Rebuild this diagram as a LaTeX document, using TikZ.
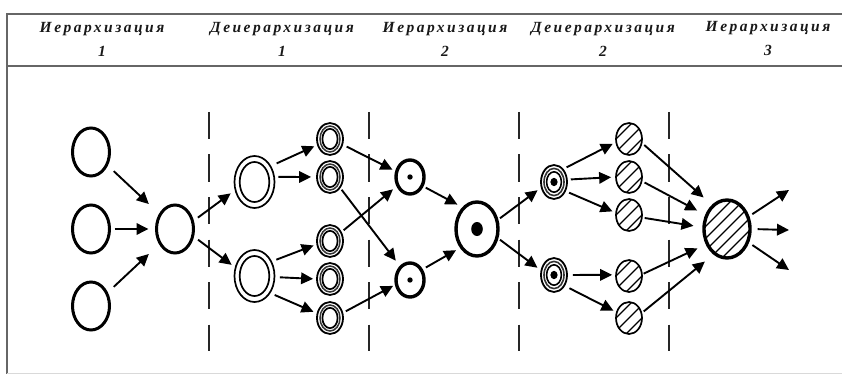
\documentclass[tikz,border=0pt]{standalone}
\usepackage{fontspec}
\setmainfont{Liberation Serif}
\usetikzlibrary{shapes.geometric,arrows.meta}
\tikzset{
  bub/.style n args={3}{ellipse,draw=black,inner sep=0pt,line width=#3,minimum width=#1pt,minimum height=#2pt},
  plainb/.style={bub={37}{48}{3pt}},
  ringb/.style={bub={40}{52}{1.7pt},path picture={\draw[line width=1.7pt] (path picture bounding box.center) ellipse (14.8pt and 20pt);}},
  rings/.style={bub={26}{32}{1.8pt},path picture={\draw[line width=1.5pt,black!80] (path picture bounding box.center) ellipse (10pt and 13pt);\draw[line width=1.7pt] (path picture bounding box.center) ellipse (7.6pt and 10.2pt);}},
  dots/.style={bub={28}{34}{3.4pt},path picture={\fill (path picture bounding box.center) circle (2.7pt);}},
  dotb/.style={bub={42}{54}{3.4pt},path picture={\fill (path picture bounding box.center) ellipse (5.8pt and 7pt);}},
  rdot/.style={bub={26}{34}{1.8pt},path picture={\draw[line width=1.6pt,black!80] (path picture bounding box.center) ellipse (10pt and 13.6pt);\draw[line width=1.6pt] (path picture bounding box.center) ellipse (7.4pt and 10.2pt);\fill (path picture bounding box.center) ellipse (3.6pt and 4.2pt);}},
  hats/.style={bub={26}{32}{1.7pt},path picture={\foreach \i in {-13,0,13}{\draw[line width=1.3pt] ([xshift=\i pt-30pt,yshift=-30pt]path picture bounding box.center) -- ++(60pt,60pt);}}},
  hatb/.style={bub={46}{58}{3.4pt},path picture={\foreach \i in {-48,-36,...,48}{\draw[line width=1.3pt] ([xshift=\i pt-40pt,yshift=-40pt]path picture bounding box.center) -- ++(80pt,80pt);}}},
  conn/.style 2 args={-{Triangle[length=12pt,width=11.5pt]},line width=1.9pt,shorten <=#1pt,shorten >=#2pt},
  rule/.style={draw=black!60,line width=1.5pt},
  divider/.style={black!85,line width=1.5pt,dash pattern=on 27pt off 15.5pt},
  head/.style={align=center,inner sep=0pt,black!90,font=\fontsize{15.5}{24}\selectfont\bfseries\itshape\addfontfeature{LetterSpace=16}}
}
\begin{document}
\begin{tikzpicture}[x=1pt,y=-1pt]
\useasboundingbox (0,0) rectangle (842,374);
% frame
\draw[rule] (842,14) -- (7,14) -- (7,374);
\draw[rule] (7,66) -- (842,66);
\draw[black!15,line width=1pt] (7,373.2) -- (842,373.2);
% headings
\node[head] (h1) at (102,39) {Иерархизация\\1};
\node[head] (h2) at (282,39) {Деиерархизация\\1};
\node[head] (h3) at (445,39) {Иерархизация\\2};
\node[head] (h4) at (603,39) {Деиерархизация\\2};
\node[head] (h5) at (768,39) {Иерархизация\\3};
% dividers
\foreach \x/\n in {209/a,369/b,519/c,669/d}{
  \coordinate (t\n) at (\x,112);
  \coordinate (u\n) at (\x,351);
  \draw[divider] (t\n) -- (u\n);
}
% nodes
\node[plainb] (A1) at (91,152) {};
\node[plainb] (A2) at (91,229) {};
\node[plainb] (A3) at (91,306) {};
\node[plainb] (B) at (175,229) {};
\node[ringb] (C1) at (254.5,182) {};
\node[ringb] (C2) at (254.5,276) {};
\node[rings] (D1) at (330,139) {};
\node[rings] (D2) at (330,177) {};
\node[rings] (D3) at (330,241) {};
\node[rings] (D4) at (330,279) {};
\node[rings] (D5) at (330,318) {};
\node[dots] (E1) at (410,177) {};
\node[dots] (E2) at (410,280) {};
\node[dotb] (F) at (477,229) {};
\node[rdot] (G1) at (554,182) {};
\node[rdot] (G2) at (554,275) {};
\node[hats] (H1) at (629,139) {};
\node[hats] (H2) at (629,177) {};
\node[hats] (H3) at (629,215) {};
\node[hats] (H4) at (629,276) {};
\node[hats] (H5) at (629,318) {};
\node[hatb] (I) at (727,229) {};
\coordinate (O1) at (789,190);
\coordinate (O2) at (789,230);
\coordinate (O3) at (789,270);
% connectors
\draw[conn={8}{14}] (A1.-39) -- (B.136);
\draw[conn={3.5}{6.5}] (A2.0) -- (B.180);
\draw[conn={8}{14}] (A3.39) -- (B.224);
\draw[conn={5}{5}] (B.24) -- (C1.203);
\draw[conn={5}{4}] (B.-22) -- (C2.156);
\draw[conn={6}{3}] (C1.44) -- (D1.205);
\draw[conn={3.5}{5}] (C1.14) -- (D2.180);
\draw[conn={4.7}{3}] (C2.40) -- (D3.194);
\draw[conn={4.5}{3}] (C2.-3) -- (D4.180);
\draw[conn={4.5}{3.5}] (C2.-47) -- (D5.160);
\draw[conn={4}{3}] (D1.-24) -- (E1.158);
\draw[conn={2}{6.5}] (D2.-47) -- (E2.126);
\draw[conn={2.5}{4.5}] (D3.38) -- (E1.215);
\draw[conn={3}{2}] (D5.22) -- (E2.198);
\draw[conn={2.5}{5.5}] (E1.-35) -- (F.124);
\draw[conn={3.5}{4.5}] (E2.40) -- (F.228);
\draw[conn={2}{4}] (F.24) -- (G1.204);
\draw[conn={2}{4}] (F.-24) -- (G2.160);
\draw[conn={3.5}{3}] (G1.54) -- (H1.194);
\draw[conn={3}{4}] (G1.10) -- (H2.180);
\draw[conn={3.5}{3}] (G1.-38) -- (H3.170);
\draw[conn={5}{3}] (G2.0) -- (H4.175);
\draw[conn={5}{3}] (G2.-45) -- (H5.155);
\draw[conn={2.5}{11}] (H1.-18) -- (I.122);
\draw[conn={2.5}{9}] (H2.-18) -- (I.147);
\draw[conn={2}{9}] (H3.-11) -- (I.176);
\draw[conn={1}{9}] (H4.8) -- (I.216);
\draw[conn={2}{11}] (H5.22) -- (I.242);
\draw[conn={3.5}{0}] (I.30) -- (O1);
\draw[conn={6}{0}] (I.0) -- (O2);
\draw[conn={4}{0}] (I.-32) -- (O3);
\end{tikzpicture}
\end{document}
